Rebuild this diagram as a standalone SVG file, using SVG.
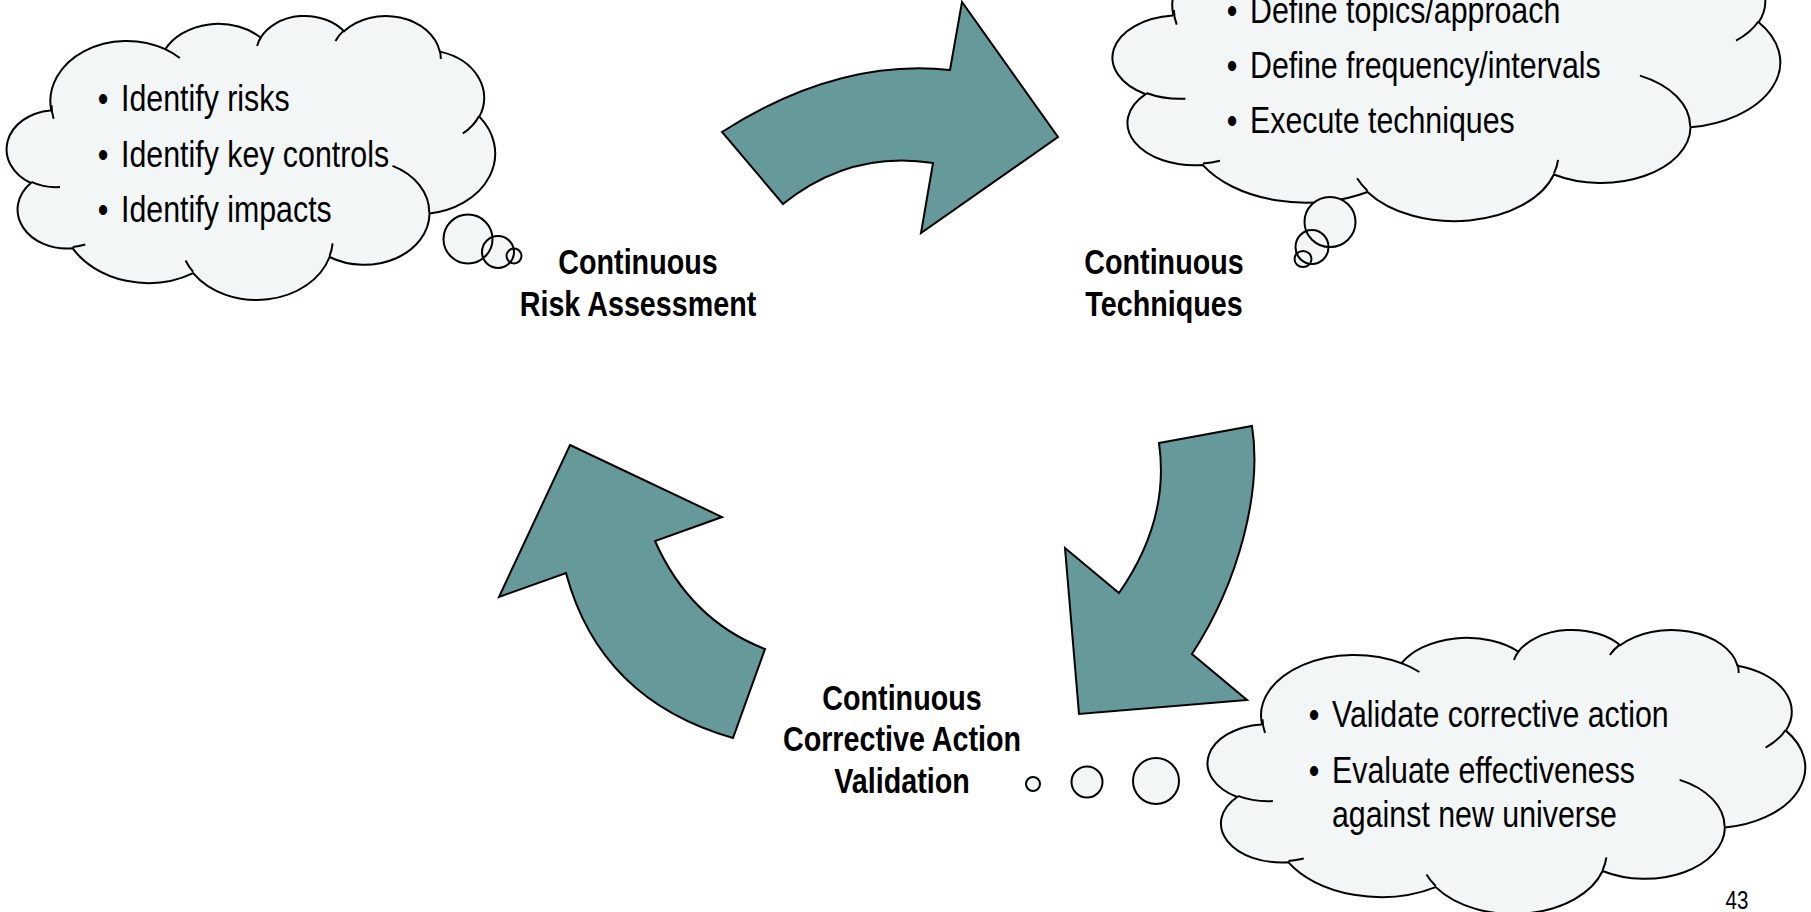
<svg xmlns="http://www.w3.org/2000/svg" xmlns:xlink="http://www.w3.org/1999/xlink" width="1811" height="912" viewBox="0 0 1811 912">
<style>
.bg{fill:#ffffff}
.cfill{fill:#F2F6F7;stroke:none}
.cline{fill:none;stroke:#000;stroke-width:2}
.bfill{fill:#F2F6F7;stroke:none}
.bline{fill:none;stroke:#000;stroke-width:2}
.arrow{fill:#669999;stroke:#000;stroke-width:2;stroke-linejoin:miter}
.txt{font-family:"Liberation Sans","Arial",sans-serif;font-size:37px;fill:#000}
.lbl{font-family:"Liberation Sans","Arial",sans-serif;font-size:35px;font-weight:bold;fill:#000;text-anchor:middle}
.bul{text-anchor:middle}
.pg{font-family:"Liberation Sans","Arial",sans-serif;font-size:25px;fill:#000;text-anchor:middle}
</style>
<defs>
<path id="cloudBody" vector-effect="non-scaling-stroke" d="M3900,14370 A6753,9190 0 0 1 14005,5202 A5333,7267 0 0 1 22455,3431 A4365,5945 0 0 1 29832,2478 A4857,6595 0 0 1 38317,5574 A5333,7273 0 0 1 41817,15458 A6775,9220 0 0 1 37404,30202 A5785,7867 0 0 1 28555,36812 A6752,9215 0 0 1 16481,39266 A7720,10543 0 0 1 5805,35473 A4360,5918 0 0 1 2112,25553 A4345,5945 0 0 1 3862,14510 Z"/>
<path id="cloudInner" vector-effect="non-scaling-stroke" d="M4693,26177 A4345,5945 0 0 1 2160,25380 M6928,34899 A4360,5918 0 0 1 5820,35281 M16478,39090 A6752,9215 0 0 1 15809,37348 M28827,34751 A6752,9215 0 0 1 28561,36659 M34129,22954 A5785,7867 0 0 1 37381,30090 M41798,15354 A5333,7273 0 0 1 40351,18029 M38324,5426 A4857,6595 0 0 1 38400,6690 M29078,3952 A4857,6595 0 0 1 29820,2339 M22141,4720 A4365,5945 0 0 1 22500,3331 M14000,5192 A6753,9190 0 0 1 15300,6540 M4127,15789 A6753,9190 0 0 1 3943,13729"/>
</defs>
<rect class="bg" x="0" y="0" width="1811" height="912"/>

<g id="connectors">
<path id="arrow-top" class="arrow" d="M722,132 Q838,58 950,70 L962,2 L1058,137 L921,233 L933,163 Q850,150 783,204 Z"/>
<path id="arrow-right" class="arrow" d="M1159,443 L1252,426 C1262,490 1240,580 1192,654 L1247,700 L1079,714 L1065,548 L1119,593 Q1170,520 1159,443 Z"/>
<path id="arrow-left" class="arrow" d="M570,445 L722,517 L655,541 Q690,620 765,649 L733,738 Q600,700 566,573 L499,597 Z"/>
</g>

<g id="cloud-risk">
<g transform="translate(7,15) scale(0.011296,0.006574)">
<use xlink:href="#cloudBody" class="cfill"/>
<use xlink:href="#cloudBody" class="cline"/>
<use xlink:href="#cloudInner" class="cline"/>
</g>
<circle class="bfill" cx="468" cy="239" r="24.5"/>
<circle class="bfill" cx="498" cy="252" r="16"/>
<circle class="bfill" cx="514" cy="256" r="7.5"/>
<circle class="bline" cx="468" cy="239" r="24.5"/>
<circle class="bline" cx="498" cy="252" r="16"/>
<circle class="bline" cx="514" cy="256" r="7.5"/>
<text class="txt bul" transform="translate(103 111) scale(0.82 1)">•</text>
<text class="txt" transform="translate(121 111) scale(0.82 1)">Identify risks</text>
<text class="txt bul" transform="translate(103 167) scale(0.82 1)">•</text>
<text class="txt" transform="translate(121 167) scale(0.82 1)">Identify key controls</text>
<text class="txt bul" transform="translate(103 222) scale(0.82 1)">•</text>
<text class="txt" transform="translate(121 222) scale(0.82 1)">Identify impacts</text>
</g>

<g id="cloud-techniques">
<g transform="translate(1113,-88) scale(0.01544,0.00713)">
<use xlink:href="#cloudBody" class="cfill"/>
<use xlink:href="#cloudBody" class="cline"/>
<use xlink:href="#cloudInner" class="cline"/>
</g>
<ellipse class="bfill" cx="1330" cy="222" rx="25.5" ry="25"/>
<ellipse class="bfill" cx="1312" cy="247" rx="16.5" ry="17"/>
<ellipse class="bfill" cx="1303" cy="259" rx="8.5" ry="8"/>
<ellipse class="bline" cx="1330" cy="222" rx="25.5" ry="25"/>
<ellipse class="bline" cx="1312" cy="247" rx="16.5" ry="17"/>
<ellipse class="bline" cx="1303" cy="259" rx="8.5" ry="8"/>
<text class="txt bul" transform="translate(1232 23) scale(0.82 1)">•</text>
<text class="txt" transform="translate(1250 23) scale(0.82 1)">Define topics/approach</text>
<text class="txt bul" transform="translate(1232 78) scale(0.82 1)">•</text>
<text class="txt" transform="translate(1250 78) scale(0.82 1)">Define frequency/intervals</text>
<text class="txt bul" transform="translate(1232 133) scale(0.82 1)">•</text>
<text class="txt" transform="translate(1250 133) scale(0.82 1)">Execute techniques</text>
</g>

<g id="cloud-validation">
<g transform="translate(1208,629) scale(0.013819,0.006574)">
<use xlink:href="#cloudBody" class="cfill"/>
<use xlink:href="#cloudBody" class="cline"/>
<use xlink:href="#cloudInner" class="cline"/>
</g>
<circle class="bfill" cx="1033" cy="784" r="7"/>
<circle class="bfill" cx="1087" cy="782" r="15.5"/>
<circle class="bfill" cx="1156" cy="781" r="23"/>
<circle class="bline" cx="1033" cy="784" r="7"/>
<circle class="bline" cx="1087" cy="782" r="15.5"/>
<circle class="bline" cx="1156" cy="781" r="23"/>
<text class="txt bul" transform="translate(1314 727) scale(0.82 1)">•</text>
<text class="txt" transform="translate(1332 727) scale(0.82 1)">Validate corrective action</text>
<text class="txt bul" transform="translate(1314 783) scale(0.82 1)">•</text>
<text class="txt" transform="translate(1332 783) scale(0.82 1)">Evaluate effectiveness</text>
<text class="txt" transform="translate(1332 827) scale(0.82 1)">against new universe</text>
</g>

<g id="label-risk">
<text class="lbl" transform="translate(638 274) scale(0.82 1)">Continuous</text>
<text class="lbl" transform="translate(638 316) scale(0.82 1)">Risk Assessment</text>
</g>
<g id="label-techniques">
<text class="lbl" transform="translate(1164 274) scale(0.82 1)">Continuous</text>
<text class="lbl" transform="translate(1164 316) scale(0.82 1)">Techniques</text>
</g>
<g id="label-validation">
<text class="lbl" transform="translate(902 710) scale(0.82 1)">Continuous</text>
<text class="lbl" transform="translate(902 751) scale(0.82 1)">Corrective Action</text>
<text class="lbl" transform="translate(902 793) scale(0.82 1)">Validation</text>
</g>
<g id="page-number">
<text class="pg" transform="translate(1737 909) scale(0.82 1)">43</text>
</g>
</svg>
